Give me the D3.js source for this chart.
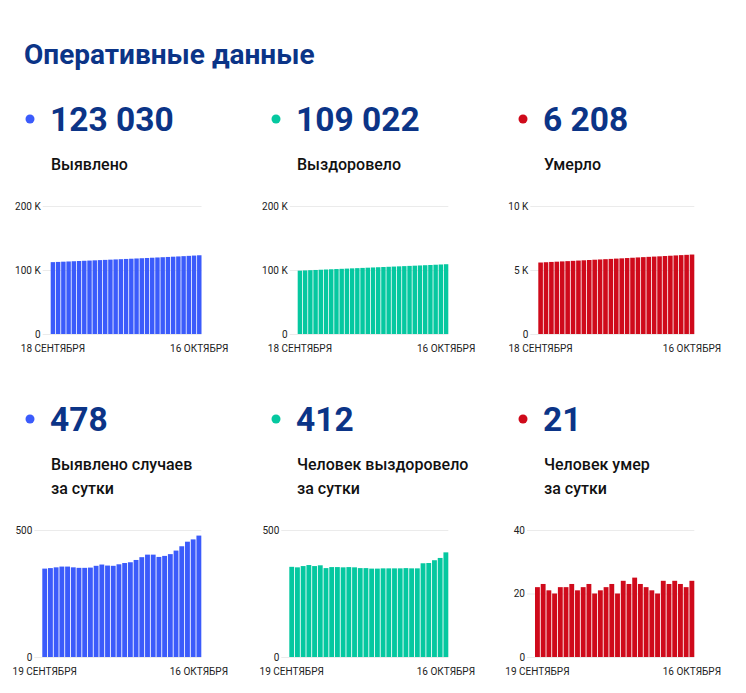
<!DOCTYPE html>
<html><head><meta charset="utf-8">
<script src="https://cdn.jsdelivr.net/npm/d3@7"></script>
<style>
html,body{margin:0;padding:0;background:#fff;}
svg{display:block;font-family:Roboto,"Noto Sans",sans-serif;}
</style></head>
<body>
<svg id="c" width="746" height="693"></svg>
<script>
// ---------- DATA ----------
const title = "Оперативные данные";

const datesCum = ["18.09","19.09","20.09","21.09","22.09","23.09","24.09","25.09","26.09","27.09","28.09","29.09","30.09","01.10","02.10","03.10","04.10","05.10","06.10","07.10","08.10","09.10","10.10","11.10","12.10","13.10","14.10","15.10","16.10"];
const datesDaily = ["19.09","20.09","21.09","22.09","23.09","24.09","25.09","26.09","27.09","28.09","29.09","30.09","01.10","02.10","03.10","04.10","05.10","06.10","07.10","08.10","09.10","10.10","11.10","12.10","13.10","14.10","15.10","16.10"];

const casesTotal = [112282,112630,112980,113333,113689,114045,114398,114749,115100,115452,115811,116175,116535,116894,117259,117629,118002,118384,118777,119180,119583,119977,120375,120780,121199,121635,122089,122552,123030];
const recoveredTotal = [98995,99350,99703,100061,100423,100781,101142,101492,101846,102200,102553,102907,103260,103610,103960,104308,104656,105005,105354,105703,106052,106402,106751,107100,107469,107839,108220,108610,109022];
const deathsTotal = [5585,5607,5630,5651,5671,5693,5715,5738,5759,5781,5804,5824,5845,5867,5890,5910,5934,5957,5982,6005,6027,6048,6068,6092,6115,6139,6162,6184,6208];

const casesDaily = [348,350,353,356,356,353,351,351,352,359,364,360,359,365,370,373,382,393,403,403,394,398,405,419,436,454,463,478];
const recoveredDaily = [355,353,358,362,358,361,350,354,354,353,354,353,350,350,348,348,349,349,349,349,350,349,349,369,370,381,390,412];
const deathsDaily = [22,23,21,20,22,22,23,21,22,23,20,21,22,23,20,24,23,25,23,22,21,20,24,23,24,23,22,24];

const headlineNumbers = ["123 030","109 022","6 208","478","412","21"];
const headlineLabels = [["Выявлено"],["Выздоровело"],["Умерло"],["Выявлено случаев","за сутки"],["Человек выздоровело","за сутки"],["Человек умер","за сутки"]];

const dateLabelsCum = ["18 СЕНТЯБРЯ","16 ОКТЯБРЯ"];
const dateLabelsDaily = ["19 СЕНТЯБРЯ","16 ОКТЯБРЯ"];

const ticksTopBig = [0,100000,200000];
const ticksTopSmall = [0,5000,10000];
const ticksDailyBig = [0,500];
const ticksDailySmall = [0,20,40];

// ---------- STYLE / LAYOUT ----------
const colors = ["#3b5bfb","#05c8a0","#cf0a1b"];
const navy = "#0b3487";
const colX = [51, 297, 544];
const rowOffset = [0, 300];

const svg = d3.select("#c");

svg.append("text").attr("x",24).attr("y",64)
  .attr("font-size",28).attr("font-weight",700).attr("fill",navy)
  .text(title);

// headline blocks
headlineNumbers.forEach((num,i)=>{
  const col = i%3, row = Math.floor(i/3);
  const x = colX[col], oy = rowOffset[row];
  svg.append("circle").attr("cx",x-21).attr("cy",119+oy).attr("r",4.5).attr("fill",colors[col]);
  svg.append("text").attr("x",x-1).attr("y",131+oy)
    .attr("font-size",33.5).attr("font-weight",700).attr("fill",navy).text(num);
  headlineLabels[i].forEach((t,j)=>{
    svg.append("text").attr("x",x).attr("y",170+oy+j*24)
      .attr("font-size",16).attr("font-weight",500).attr("fill","#111").text(t);
  });
});

// charts
const charts = [
  {data:casesTotal, dates:datesCum, labels:dateLabelsCum, ticks:ticksTopBig, max:200000, col:0, x0:50.7, x1:201.5, y0:334, y1:206, fmt:d=>d===0?"0":(d/1000)+" K"},
  {data:recoveredTotal, dates:datesCum, labels:dateLabelsCum, ticks:ticksTopBig, max:200000, col:1, x0:297.7, x1:448.3, y0:334, y1:206, fmt:d=>d===0?"0":(d/1000)+" K"},
  {data:deathsTotal, dates:datesCum, labels:dateLabelsCum, ticks:ticksTopSmall, max:10000, col:2, x0:538.3, x1:694.3, y0:334, y1:206, fmt:d=>d===0?"0":(d/1000)+" K"},
  {data:casesDaily, dates:datesDaily, labels:dateLabelsDaily, ticks:ticksDailyBig, max:500, col:0, x0:42.3, x1:201.3, y0:657, y1:530, fmt:d=>String(d)},
  {data:recoveredDaily, dates:datesDaily, labels:dateLabelsDaily, ticks:ticksDailyBig, max:500, col:1, x0:289.3, x1:448.3, y0:657, y1:530, fmt:d=>String(d)},
  {data:deathsDaily, dates:datesDaily, labels:dateLabelsDaily, ticks:ticksDailySmall, max:40, col:2, x0:535, x1:694.3, y0:657, y1:530, fmt:d=>String(d)}
];

charts.forEach(c=>{
  const g = svg.append("g");
  const x = d3.scaleBand().domain(c.dates).range([c.x0,c.x1]).paddingInner(0.15).paddingOuter(0);
  const y = d3.scaleLinear().domain([0,c.max]).range([c.y0,c.y1]);

  // gridlines + y labels
  const ya = g.append("g").attr("transform",`translate(${c.x0-8},0)`)
    .call(d3.axisLeft(y).tickValues(c.ticks).tickFormat(c.fmt)
      .tickSize(-(c.x1-c.x0+8)).tickPadding(2));
  ya.select(".domain").remove();
  ya.selectAll(".tick line").attr("stroke","#ebebeb").attr("stroke-width",1);
  ya.selectAll(".tick text").attr("font-size",10).attr("fill","#222")
    .attr("font-family","Roboto,sans-serif");

  g.selectAll("rect").data(c.data).join("rect")
    .attr("x",(d,i)=>x(c.dates[i]))
    .attr("width",x.bandwidth())
    .attr("y",d=>y(d))
    .attr("height",d=>c.y0-y(d))
    .attr("fill",colors[c.col]);

  const first = c.dates[0], last = c.dates[c.dates.length-1];
  const xa = g.append("g").attr("transform",`translate(0,${c.y0})`)
    .call(d3.axisBottom(x).tickValues([first,last])
      .tickFormat(d=>d===first?c.labels[0]:c.labels[1]).tickSize(0).tickPadding(11));
  xa.select(".domain").remove();
  xa.selectAll(".tick text").attr("font-size",10).attr("fill","#222")
    .attr("font-family","Roboto,sans-serif");
});
</script>
</body></html>
